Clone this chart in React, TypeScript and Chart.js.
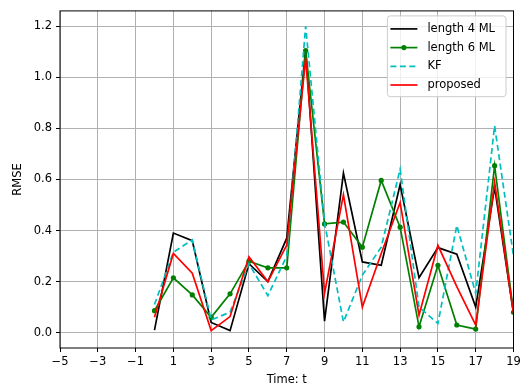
import { useEffect, useRef } from "react";
import { Chart, registerables } from "chart.js";

Chart.register(...registerables);

const timeSteps = [0, 1, 2, 3, 4, 5, 6, 7, 8, 9, 10, 11, 12, 13, 14, 15, 16, 17, 18, 19];
const length4ML = [0.01, 0.39, 0.36, 0.04, 0.008, 0.27, 0.2, 0.37, 1.11, 0.045, 0.625, 0.277, 0.264, 0.58, 0.215, 0.333, 0.307, 0.1, 0.57, 0.076];
const length6ML = [0.086, 0.215, 0.148, 0.06, 0.152, 0.28, 0.254, 0.254, 1.105, 0.426, 0.433, 0.335, 0.596, 0.413, 0.023, 0.264, 0.03, 0.014, 0.654, 0.08];
const kfValues = [0.11, 0.315, 0.363, 0.05, 0.08, 0.27, 0.145, 0.3, 1.2, 0.43, 0.042, 0.225, 0.335, 0.64, 0.1, 0.036, 0.42, 0.154, 0.81, 0.3];
const proposedValues = [0.06, 0.31, 0.233, 0.008, 0.063, 0.297, 0.2, 0.343, 1.075, 0.155, 0.54, 0.1, 0.31, 0.51, 0.068, 0.342, 0.18, 0.03, 0.589, 0.076];

const xTickValues = [-5, -3, -1, 1, 3, 5, 7, 9, 11, 13, 15, 17, 19];
const yTickValues = [0, 0.2, 0.4, 0.6, 0.8, 1.0, 1.2];

const FONT = "'DejaVu Sans', sans-serif";
const FS = 11.5;

const toPoints = (vals: number[]) => timeSteps.map((t, i) => ({ x: t, y: vals[i] }));

const framePlugin = {
  id: "frame",
  afterDatasetsDraw(chart: any) {
    const { ctx, chartArea: a } = chart;
    ctx.save();
    ctx.strokeStyle = "#000";
    ctx.lineWidth = 1;
    ctx.strokeRect(a.left, a.top, a.right - a.left, a.bottom - a.top);
    ctx.restore();
  },
};

const legendPlugin = {
  id: "mplLegend",
  afterDraw(chart: any) {
    const { ctx, chartArea: a } = chart;
    const ds = chart.data.datasets;
    ctx.save();
    ctx.font = `${FS}px ${FONT}`;
    let maxW = 0;
    ds.forEach((d: any) => (maxW = Math.max(maxW, ctx.measureText(d.label).width)));
    const rowH = 18.7;
    const boxW = 3 + 27 + 10 + maxW + 11;
    const boxH = ds.length * rowH + 6;
    const bx = a.right - 7.5 - boxW;
    const by = a.top + 5;
    ctx.beginPath();
    (ctx as any).roundRect(bx, by, boxW, boxH, 3);
    ctx.fillStyle = "rgba(255,255,255,0.8)";
    ctx.fill();
    ctx.strokeStyle = "#cccccc";
    ctx.lineWidth = 1;
    ctx.stroke();
    ds.forEach((d: any, i: number) => {
      const cy = by + 13 + i * rowH;
      const x0 = bx + 3;
      const x1 = x0 + 27;
      ctx.beginPath();
      ctx.setLineDash(d.borderDash || []);
      ctx.strokeStyle = d.borderColor;
      ctx.lineWidth = d.borderWidth;
      ctx.moveTo(x0, cy);
      ctx.lineTo(x1, cy);
      ctx.stroke();
      ctx.setLineDash([]);
      if (d.pointRadius > 0) {
        ctx.beginPath();
        ctx.fillStyle = d.pointBackgroundColor;
        ctx.arc((x0 + x1) / 2, cy, d.pointRadius, 0, Math.PI * 2);
        ctx.fill();
      }
      ctx.fillStyle = "#000";
      ctx.textBaseline = "middle";
      ctx.textAlign = "left";
      ctx.fillText(d.label, x1 + 10, cy);
    });
    ctx.restore();
  },
};

export default function App() {
  const ref = useRef<HTMLCanvasElement | null>(null);
  useEffect(() => {
    if (!ref.current) return;
    const common = { pointRadius: 0, borderWidth: 1.7, tension: 0, fill: false };
    const chart = new Chart(ref.current, {
      type: "line",
      data: {
        datasets: [
          { ...common, label: "length 4 ML", data: toPoints(length4ML), borderColor: "#000000", order: 4 },
          {
            ...common,
            label: "length 6 ML",
            data: toPoints(length6ML),
            borderColor: "#008000",
            pointRadius: 2.6,
            pointBackgroundColor: "#008000",
            pointBorderWidth: 0,
            order: 3,
          },
          { ...common, label: "KF", data: toPoints(kfValues), borderColor: "#00bfbf", borderDash: [6, 3.5], order: 2 },
          { ...common, label: "proposed", data: toPoints(proposedValues), borderColor: "#ff0000", order: 1 },
        ] as any,
      },
      options: {
        responsive: false,
        animation: false,
        layout: { padding: { left: 0, right: 15.5, top: 10, bottom: 0 } },
        plugins: { legend: { display: false }, tooltip: { enabled: false } },
        scales: {
          x: {
            type: "linear",
            min: -5,
            max: 19,
            afterBuildTicks: (s: any) => {
              s.ticks = xTickValues.map((v) => ({ value: v }));
            },
            afterFit: (s: any) => {
              s.height = 38;
            },
            grid: { color: "#b0b0b0", lineWidth: 1, tickColor: "#000", tickLength: 4, tickWidth: 1 },
            border: { display: false },
            ticks: {
              color: "#000",
              padding: 3,
              maxRotation: 0,
              autoSkip: false,
              font: { family: FONT, size: FS },
              callback: (v: any) => (v < 0 ? "\u2212" + Math.abs(v) : String(v)),
            },
            title: {
              display: true,
              text: "Time: t",
              color: "#000",
              font: { family: FONT, size: FS, lineHeight: 1 },
              padding: { top: 0, bottom: 0 },
            },
          },
          y: {
            type: "linear",
            min: -0.06,
            max: 1.26,
            afterBuildTicks: (s: any) => {
              s.ticks = yTickValues.map((v) => ({ value: v }));
            },
            afterFit: (s: any) => {
              s.width = 60;
            },
            grid: { color: "#b0b0b0", lineWidth: 1, tickColor: "#000", tickLength: 4, tickWidth: 1 },
            border: { display: false },
            ticks: {
              color: "#000",
              padding: 4,
              autoSkip: false,
              font: { family: FONT, size: FS },
              callback: (v: any) => Number(v).toFixed(1),
            },
            title: {
              display: true,
              text: "RMSE",
              color: "#000",
              font: { family: FONT, size: FS },
              padding: { top: 11, bottom: 0 },
            },
          },
        },
      },
      plugins: [framePlugin, legendPlugin],
    });
    return () => chart.destroy();
  }, []);
  return (
    <div style={{ position: "absolute", left: 0, top: 0, width: 529, height: 386, background: "#fff" }}>
      <canvas ref={ref} width={529} height={386} style={{ display: "block" }} />
    </div>
  );
}
